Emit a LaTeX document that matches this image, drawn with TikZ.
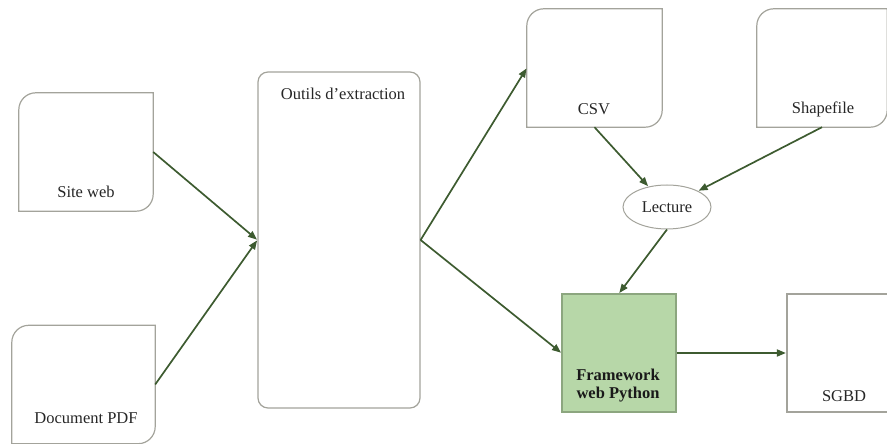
\documentclass[tikz,border=0pt]{standalone}
\usepackage{fontspec}
\setmainfont{Liberation Serif}
\usetikzlibrary{arrows.meta,shapes.geometric}
\definecolor{boxgray}{HTML}{A3A39B}
\definecolor{arrowgreen}{HTML}{3D5B30}
\definecolor{fwfill}{HTML}{B7D7A8}
\definecolor{fwline}{HTML}{8CA67F}
\newcommand{\docoutline}[1]{%
  \draw[boxline] (#1.south west) -- ([yshift=-17pt]#1.north west)
    arc[start angle=180,end angle=90,radius=17pt] -- (#1.north east)
    -- ([yshift=17pt]#1.south east)
    arc[start angle=0,end angle=-90,radius=17pt] -- cycle;}
\begin{document}
\begin{tikzpicture}[x=1pt,y=1pt,
  holder/.style={rectangle, draw=none, inner sep=0pt, minimum width=#1, minimum height=118pt},
  boxline/.style={draw=boxgray, line width=1.2pt},
  lbl/.style={font=\fontsize{16.5}{19}\selectfont, text=black!85, inner sep=0pt},
  arr/.style={draw=arrowgreen, line width=1.7pt, -{Triangle[length=9pt,width=7pt]}, shorten >=0.5pt}]
\useasboundingbox (0,0) rectangle (887,444);
\clip (0,0) rectangle (887,444);
% boxes
\node[holder=134pt] (site) at (86,292) {};
\node[holder=143pt] (pdf) at (83.5,59.5) {};
\node[rectangle, boxline, rounded corners=10pt, minimum width=162pt, minimum height=336pt, inner sep=0pt] (outils) at (339,204) {};
\node[holder=135pt] (csv) at (594.5,376) {};
\node[holder=130pt] (shape) at (822,376) {};
\node[ellipse, draw=boxgray, line width=1pt, minimum width=88pt, minimum height=44pt, inner sep=0pt, font=\fontsize{16.5}{19}\selectfont, text=black!85] (lecture) at (667,237) {Lecture};
\node[rectangle, draw=fwline, fill=fwfill, line width=1.2pt, minimum width=114pt, minimum height=118pt, inner sep=0pt] (fw) at (619,91) {};
\node[rectangle, boxline, minimum width=114pt, minimum height=118pt, inner sep=0pt] (sgbd) at (844,91) {};
\docoutline{site}
\docoutline{pdf}
\docoutline{csv}
\docoutline{shape}
% labels
\node[lbl] (sitet) at (86,252) {Site web};
\node[lbl] (pdft) at (86,26) {Document PDF};
\node[lbl] (outilst) at (343,350) {Outils d’extraction};
\node[lbl] (csvt) at (594,335) {CSV};
\node[lbl] (shapet) at (823,335) {Shapefile};
\node[lbl, font=\fontsize{16.5}{17.5}\selectfont\bfseries, align=center, text=black!90] (fwt) at (618,58.5) {Framework\\web Python};
\node[lbl] (sgbdt) at (844,48) {SGBD};
% connectors
\draw[arr] (site.east) -- (outils.west);
\draw[arr] (pdf.east) -- (outils.west);
\draw[arr] (outils.east) -- (csv.west);
\draw[arr] (outils.east) -- (fw.west);
\draw[arr] (csv.south) -- (lecture);
\draw[arr] (shape.south) -- (lecture);
\draw[arr] (lecture.south) -- (fw.north);
\draw[arr] (fw.east) -- (sgbd.west);
\end{tikzpicture}
\end{document}
